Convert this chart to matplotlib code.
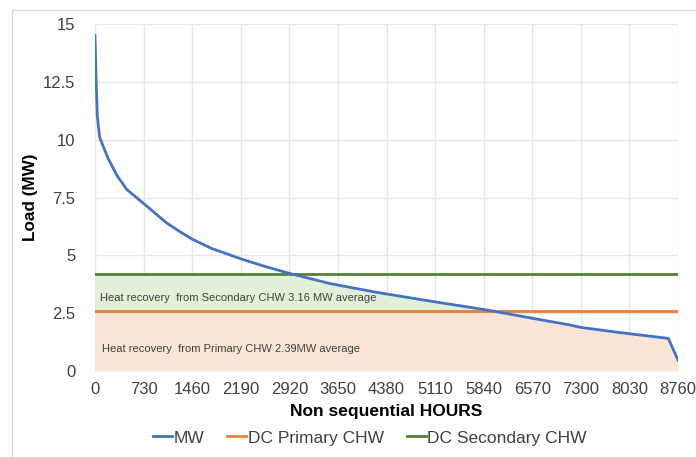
import matplotlib
matplotlib.use("Agg")
import matplotlib.pyplot as plt
import numpy as np
from matplotlib.patches import Rectangle
from matplotlib.lines import Line2D

plt.rcParams['font.family'] = ['Liberation Sans', 'DejaVu Sans']

hours = [0, 10, 20, 35, 70, 195, 330, 476, 727, 1077, 1277, 1460, 1750, 2190, 2555, 2920,
         3531, 4233, 5083, 5884, 6570, 7137, 7288, 7889, 8615, 8760]
mw = [14.5, 13.3, 12.3, 11.0, 10.1, 9.2, 8.45, 7.85, 7.25, 6.4, 6.02, 5.7, 5.3, 4.85, 4.52, 4.22,
      3.78, 3.4, 3.0, 2.64, 2.28, 1.99, 1.89, 1.66, 1.41, 0.47]
primary_chw = 2.6
secondary_chw = 4.2
x_ticks = [0, 730, 1460, 2190, 2920, 3650, 4380, 5110, 5840, 6570, 7300, 8030, 8760]
y_ticks = [0, 2.5, 5, 7.5, 10, 12.5, 15]
y_tick_labels = ['0', '2.5', '5', '7.5', '10', '12.5', '15']

fig = plt.figure(figsize=(6.96, 4.57), dpi=100)
ax = fig.add_axes([95/696, 1-371/457, (678-95)/696, (371-24)/457])

# outer chart frame
fig.patches.append(Rectangle((12/696, -0.1), 1.2, 1-10/457+0.1, transform=fig.transFigure,
                             fill=False, edgecolor='#d9d9d9', linewidth=1.0))

hx = np.linspace(0, 8760, 4000)
hy = np.interp(hx, hours, mw)
ax.fill_between(hx, 0, np.minimum(hy, primary_chw), color='#fbe5d6', linewidth=0, zorder=1)
ax.fill_between(hx, primary_chw, np.clip(hy, primary_chw, secondary_chw),
                where=hy > primary_chw, color='#e2f0d9', linewidth=0, zorder=1)

ax.plot(hours, mw, color='#4472c4', linewidth=2.0, zorder=3)
ax.plot([0, 8760], [primary_chw, primary_chw], color='#ed7d31', linewidth=2.0, zorder=2)
ax.plot([0, 8760], [secondary_chw, secondary_chw], color='#548235', linewidth=2.0, zorder=2)

ax.text(80, 3.16, 'Heat recovery  from Secondary CHW 3.16 MW average', fontsize=8.0,
        color='#404040', va='center', ha='left', zorder=4)
ax.text(110, 0.93, 'Heat recovery  from Primary CHW 2.39MW average', fontsize=8.0,
        color='#404040', va='center', ha='left', zorder=4)

ax.set_xlim(0, 8760)
ax.set_ylim(0, 15)
ax.set_xticks(x_ticks)
ax.set_yticks(y_ticks)
ax.set_yticklabels(y_tick_labels)
ax.grid(True, color='#e6e6e6', linewidth=1.0, zorder=0)
ax.set_axisbelow(True)
for s in ax.spines.values():
    s.set_visible(False)
ax.tick_params(length=0, labelsize=12, colors='#404040', pad=8)
ax.tick_params(axis='y', pad=14)
ax.set_xlabel('Non sequential HOURS', fontsize=12.5, fontweight='bold', labelpad=5)
ax.set_ylabel('Load (MW)', fontsize=12.3, fontweight='bold', labelpad=4)

handles = [Line2D([], [], color='#4472c4', linewidth=2),
           Line2D([], [], color='#ed7d31', linewidth=2),
           Line2D([], [], color='#548235', linewidth=2)]
fig.legend(handles, ['MW', 'DC Primary CHW', 'DC Secondary CHW'], loc='center',
           bbox_to_anchor=(370/696, 1-438/457), ncol=3, frameon=False, fontsize=12.5,
           handlelength=1.1, handletextpad=0.1, columnspacing=1.3, labelcolor='#404040')

fig.savefig('out.png', dpi=100)
